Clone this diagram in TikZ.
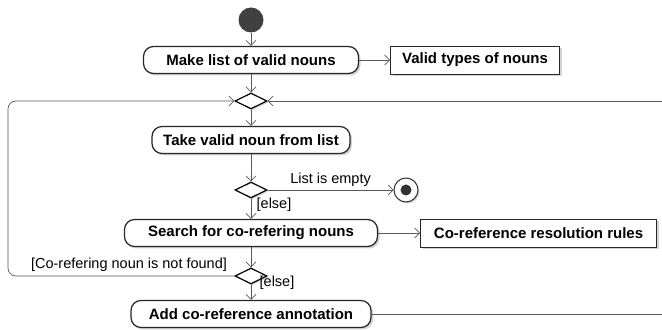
\documentclass[tikz,border=0pt]{standalone}
\usepackage{fontspec}
\setmainfont{Liberation Sans}
\usetikzlibrary{arrows.meta,positioning,shapes.geometric,shadows}

\tikzset{
  act/.style={draw=black!85, line width=1.2pt, fill=white, rounded corners=10pt,
    minimum height=27pt, inner xsep=0pt,
    font=\bfseries\fontsize{15}{17}\selectfont,
    drop shadow={shadow xshift=2pt, shadow yshift=-2pt, opacity=0.35}},
  obj/.style={draw=black!85, line width=0.9pt, fill=white, minimum height=28pt,
    inner xsep=7pt, font=\bfseries\fontsize{15}{17}\selectfont,
    drop shadow={shadow xshift=2pt, shadow yshift=-2pt, opacity=0.35}},
  dec/.style={draw=black, line width=1.2pt, fill=white, diamond, inner sep=0pt,
    minimum width=32pt, minimum height=16pt,
    drop shadow={shadow xshift=1.5pt, shadow yshift=-1.5pt, opacity=0.3}},
  flow/.style={draw=black!65, line width=0.7pt,
    -{Straight Barb[length=5pt,width=10pt]}},
  line/.style={draw=black!65, line width=0.7pt},
  lbl/.style={font=\fontsize{14.5}{16}\selectfont, inner sep=0pt}
}

\begin{document}
\begin{tikzpicture}[x=1pt, y=-1pt]
  \useasboundingbox (0,0) rectangle (662,331);

  % start
  \node [circle, fill=black!75, minimum size=25pt, inner sep=0pt] (start) at (251,20) {};

  \node [act, minimum width=215pt] (mk) at (251,60) {Make list of valid nouns};
  \node [obj, minimum width=169pt, right = 31pt of mk] (types) {Valid types of nouns};

  \node [dec] (d1) at (251,101) {};
  \node [act, minimum width=198pt] (take) at (251,140) {Take valid noun from list};
  \node [dec] (d2) at (251,190) {};

  % final
  \node [circle, draw=black!80, line width=1pt, fill=white, minimum size=24pt, inner sep=0pt,
    drop shadow={shadow xshift=1.5pt, shadow yshift=-1.5pt, opacity=0.35}] (fin) at (406,190) {};
  \node [circle, fill=black!80, minimum size=11pt, inner sep=0pt] (fin2) at (fin) {};

  \node [act, minimum width=253pt] (search) at (251,233) {Search for co-refering nouns};
  \node [obj, minimum width=236pt, right = 42pt of search] (rules) {Co-reference resolution rules};

  \node [dec] (d3) at (251,276) {};
  \node [act, minimum width=240pt] (add) at (251,314) {Add co-reference annotation};

  \coordinate (lb) at (8,276);
  \coordinate (lt) at (8,101);
  \coordinate (rin) at (662,101);
  \coordinate (rout) at (662,314);

  \draw [flow] (start) -- (mk);
  \draw [flow] (mk) -- (types);
  \draw [flow] (mk) -- (d1);
  \draw [flow] (d1) -- (take);
  \draw [flow] (take) -- (d2);
  \draw [flow] (d2) -- node [lbl, above=3pt] {List is empty} (fin);
  \draw [flow] (d2) -- (search);
  \draw [flow] (search) -- (rules);
  \draw [flow] (search) -- (d3);
  \draw [flow] (d3) -- (add);
  \draw [flow, rounded corners=8pt] (d3) -- (lb) -- (lt) -- (d1);
  \draw [flow] (rin) -- (d1);
  \draw [line] (add) -- (rout);

  \node [lbl] (else1) at (274,205) {[else]};
  \node [lbl] (notfound) at (129,265) {[Co-refering noun is not found]};
  \node [lbl] (else2) at (277,283) {[else]};
\end{tikzpicture}
\end{document}
